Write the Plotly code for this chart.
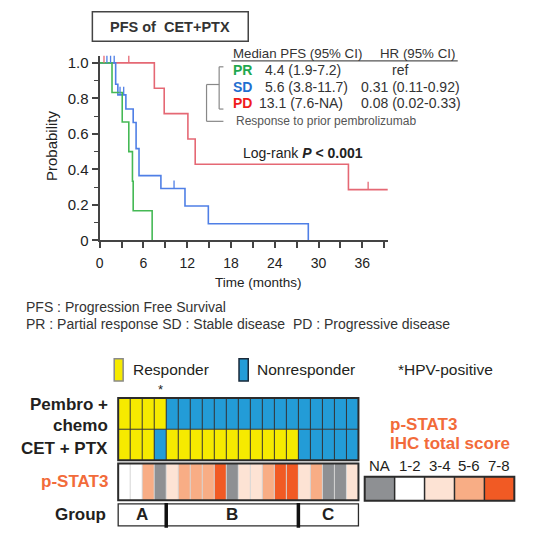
import plotly.graph_objects as go

W = H = 560
def X(px): return px / W
def Y(py): return 1 - py / H

FONT = "Liberation Sans, Arial, sans-serif"
DARK = "#2b2b2b"

# ---------------- KM data ----------------
pr_t = [0, 1.7, 3.1, 4.0, 4.5, 4.6, 7.2]
pr_s = [1.0, 0.833, 0.667, 0.5, 0.333, 0.167, 0.0]
sd_t = [0, 2.2, 2.5, 3.6, 4.6, 5.0, 5.4, 8.4, 11.7, 14.9, 28.6]
sd_s = [1.0, 0.88, 0.82, 0.74, 0.664, 0.517, 0.365, 0.292, 0.194, 0.094, 0.0]
pd_t = [0, 7.5, 8.85, 12.1, 13.1, 34.1, 39.5]
pd_s = [1.0, 0.857, 0.714, 0.571, 0.429, 0.286, 0.286]
sd_cens_t = [1.0, 1.5, 2.0, 2.8, 3.3, 10.2]
sd_cens_s = [1.0, 1.0, 1.0, 0.82, 0.82, 0.292]
pd_cens_t = [0.6, 4.0, 36.8]
pd_cens_s = [1.0, 1.0, 0.286]

grp_names = ["PR", "SD", "PD"]
grp_median = ["4.4 (1.9-7.2)", "5.6 (3.8-11.7)", "13.1 (7.6-NA)"]
grp_hr = ["ref", "0.31 (0.11-0.92)", "0.08 (0.02-0.33)"]
grp_text_col = ["#1fa84f", "#1f6fd0", "#f01c1c"]
line_col = {"PR": "#45b955", "SD": "#4f7fe6", "PD": "#e56874"}

y_tickvals = [0, 0.2, 0.4, 0.6, 0.8, 1.0]
y_ticktext = ["0", "0.2", "0.4", "0.6", "0.8", "1.0"]

# ---------------- Heatmap data ----------------
pembro = [1, 1, 1, 1] + [0] * 16
cet = [1, 1, 1, 0] + [1] * 11 + [0] * 5
pstat3 = [1, 1, 3, 0, 2, 3, 3, 3, 4, 0, 2, 2, 3, 4, 4, 2, 3, 0, 0, 2]
hpv = [0, 0, 0, 1] + [0] * 16
group = ["A"] * 4 + ["B"] * 11 + ["C"] * 5
pstat_labels = ["NA", "1-2", "3-4", "5-6", "7-8"]
pstat_colors = ["#8e9093", "#ffffff", "#fde3d4", "#f8ad85", "#f15a24"]
YELLOW = "#f6ea00"
BLUE = "#239cd7"
ORANGE_TXT = "#f26b3a"

fig = go.Figure()

# KM step curves
for name, t, s in [("PD", pd_t, pd_s), ("SD", sd_t, sd_s), ("PR", pr_t, pr_s)]:
    fig.add_trace(go.Scatter(x=t, y=s, mode="lines", line=dict(shape="hv", color=line_col[name], width=1.6),
                             xaxis="x", yaxis="y", hoverinfo="skip", showlegend=False))

def cens(ts, ss):
    xs, ys = [], []
    for t, s in zip(ts, ss):
        xs += [t, t, None]
        ys += [s, s + 0.045, None]
    return xs, ys

for name, ts, ss in [("PD", pd_cens_t, pd_cens_s), ("SD", sd_cens_t, sd_cens_s)]:
    cx, cy = cens(ts, ss)
    fig.add_trace(go.Scatter(x=cx, y=cy, mode="lines", line=dict(color=line_col[name], width=1.3),
                             xaxis="x", yaxis="y", hoverinfo="skip", showlegend=False))

# ---------------- heatmap rows ----------------
R_PEM = (403.3, 435.0)
R_CET = (435.0, 466.7)
R_PST = (470.0, 507.3)
R_GRP = (511.0, 533.3)
ncol = len(pembro)

def hm(z, rows, cs, zmax, xa="x2", ya="y2"):
    return go.Heatmap(z=[z], x0=0.5, dx=1, y0=(rows[0] + rows[1]) / 2, dy=rows[1] - rows[0],
                      colorscale=cs, zmin=0, zmax=zmax, showscale=False, hoverinfo="skip",
                      xaxis=xa, yaxis=ya)

resp_cs = [[0, BLUE], [1, YELLOW]]
pst_cs = [[i / 4, c] for i, c in enumerate(pstat_colors)]
fig.add_trace(hm(pembro, R_PEM, resp_cs, 1))
fig.add_trace(hm(cet, R_CET, resp_cs, 1))
fig.add_trace(hm(pstat3, R_PST, pst_cs, 4))
fig.add_trace(hm(list(range(5)), (483.3, 507.7), pst_cs, 4, "x3", "y3"))

shapes = []
def ln(x0, y0, x1, y1, color=DARK, width=1, xref="x2", yref="y2"):
    shapes.append(dict(type="line", x0=x0, y0=y0, x1=x1, y1=y1, xref=xref, yref=yref,
                       line=dict(color=color, width=width), layer="above"))
def rect(x0, y0, x1, y1, color=DARK, width=1, xref="x2", yref="y2", fill=None):
    d = dict(type="rect", x0=x0, y0=y0, x1=x1, y1=y1, xref=xref, yref=yref,
             line=dict(color=color, width=width), layer="above")
    if fill:
        d["fillcolor"] = fill
    shapes.append(d)

for i in range(1, ncol):
    ln(i, R_PEM[0], i, R_CET[1], "#333333", 1)
    ln(i, R_PST[0], i, R_PST[1], "#d6d6d6", 1)
ln(0, R_CET[0], ncol, R_CET[0], "#333333", 1)
rect(0, R_PEM[0], ncol, R_CET[1], DARK, 2)
rect(0, R_PST[0], ncol, R_PST[1], DARK, 2)
rect(0, R_GRP[0], ncol, R_GRP[1], DARK, 1.3)

# group dividers and labels
annotations = []
spans = []
start = 0
for i in range(1, ncol + 1):
    if i == ncol or group[i] != group[start]:
        spans.append((group[start], start, i))
        start = i
for g, a, b in spans:
    annotations.append(dict(x=(a + b) / 2, y=(R_GRP[0] + R_GRP[1]) / 2, xref="x2", yref="y2",
                            text="<b>%s</b>" % g, showarrow=False,
                            font=dict(family=FONT, size=17, color="#231f20")))
    if b < ncol:
        ln(b, R_GRP[0] - 1, b, R_GRP[1] + 2, "#111111", 3.5)

for i, h in enumerate(hpv):
    if h:
        annotations.append(dict(x=i + 0.5, y=395, xref="x2", yref="y2", text="*", showarrow=False,
                                font=dict(family=FONT, size=13, color="#231f20")))

# p-STAT3 legend boxes
for i in range(1, 5):
    ln(i, 483.3, i, 507.7, DARK, 1.5, "x3", "y3")
rect(0, 483.3, 5, 507.7, DARK, 2, "x3", "y3")
for i, lab in enumerate(pstat_labels):
    annotations.append(dict(x=i + 0.5, y=471.7, xref="x3", yref="y3", text=lab, showarrow=False,
                            font=dict(family=FONT, size=15, color="#231f20")))

# responder / nonresponder legend
rect(X(111), Y(386), X(120), Y(363.3), "#8a8a8a", 1.5, "paper", "paper", YELLOW)
rect(X(236.7), Y(386), X(246), Y(363.3), "#1b2a3a", 1.5, "paper", "paper", BLUE)

# title box
rect(X(89), Y(40), X(246), Y(10), "#444444", 1.5, "paper", "paper")

# bracket lines
for (x0, y0, x1, y1) in [(216.7, 66, 216.7, 109), (216.7, 66, 221, 66), (216.7, 109, 221, 109),
                         (204, 84, 216.7, 84), (204, 84, 204, 121.5), (204, 121.5, 221, 121.5),
                         (229, 60, 457, 60)]:
    ln(X(x0), Y(y0), X(x1), Y(y1), "#888888" if x0 < 225 else "#555555", 1.2, "paper", "paper")

def pa(x, y, text, size, color="#333333", xanchor="left", **kw):
    d = dict(x=X(x), y=Y(y), xref="paper", yref="paper", text=text, showarrow=False,
             xanchor=xanchor, yanchor="middle", font=dict(family=FONT, size=size, color=color))
    d.update(kw)
    annotations.append(d)

pa(167.5, 25, "<b>PFS of\u00a0 CET+PTX</b>", 14.5, "#333333", "center")
pa(229, 52.7, "Median PFS (95% CI)", 13.3, "#333333")
pa(376.7, 52.7, "HR (95% CI)", 13.3, "#333333")
row_y = [69.5, 86.5, 103]
med_x = [261, 261, 255]
hr_x = [389, 358, 358]
for k in range(3):
    pa(229, row_y[k], "<b>%s</b>" % grp_names[k], 14, grp_text_col[k])
    pa(med_x[k], row_y[k], grp_median[k], 14, "#333333")
    pa(hr_x[k], row_y[k], grp_hr[k], 14, "#333333")
pa(231.5, 121, "Response to prior pembrolizumab", 12, "#555555")
pa(239, 154, "Log-rank <b><i>P</i> &lt; 0.001</b>", 14, "#222222")
pa(256.7, 285.5, "Time (months)", 13.5, "#222222", "center")
pa(48, 146, "Probability", 15, "#222222", "center", textangle=-90)

pa(20, 310.7, "PFS : Progression Free Survival", 14, "#333333")
pa(20, 328.3, "PR : Partial response SD : Stable disease\u00a0 PD : Progressive disease", 14, "#333333")

pa(127.7, 374.5, "Responder", 15.5, "#231f20")
pa(253, 374.5, "Nonresponder", 15.5, "#231f20")
pa(395, 374.5, "*HPV-positive", 15.5, "#231f20")

pa(107, 410, "<b>Pembro +</b>", 17, "#231f20", "right")
pa(107, 431, "<b>chemo</b>", 17, "#231f20", "right")
pa(107, 455, "<b>CET + PTX</b>", 17, "#231f20", "right")
pa(107, 488.3, "<b>p-STAT3</b>", 17, ORANGE_TXT, "right")
pa(104.3, 521.7, "<b>Group</b>", 17, "#231f20", "right")
pa(386.7, 430, "<b>p-STAT3</b>", 17, ORANGE_TXT)
pa(386.7, 450, "<b>IHC total score</b>", 17, ORANGE_TXT)

# axes geometry
km_x0, km_x1 = 96.3, 386.6
km_ybot, km_ytop = 242.7, 54.8
x2_l, x2_r = 112.0, 360.0
colw = (357.0 - 115.0) / ncol
x3_l, x3_r = 361.0, 516.0
boxw = (514.0 - 363.3) / 5

axcol = "#444444"
fig.update_layout(
    width=W, height=H, margin=dict(l=0, r=0, t=0, b=0),
    paper_bgcolor="white", plot_bgcolor="white", showlegend=False,
    xaxis=dict(domain=[X(km_x0), X(km_x1)], range=[0, 39.5], anchor="y",
               tickmode="linear", tick0=0, dtick=6, ticks="outside", ticklen=6, tickwidth=1.5,
               tickcolor=axcol, showline=True, linecolor=axcol, linewidth=2, showgrid=False,
               zeroline=False, ticklabelstandoff=3,
               tickfont=dict(family=FONT, size=14, color="#222222"),
               minor=dict(tickmode="linear", tick0=0, dtick=3, ticks="outside", ticklen=6,
                          tickwidth=1.5, tickcolor=axcol, showgrid=False)),
    yaxis=dict(domain=[Y(km_ybot), Y(km_ytop)], range=[0, 1.04], anchor="x",
               tickmode="array", tickvals=y_tickvals, ticktext=y_ticktext,
               ticks="outside", ticklen=6, tickwidth=1.5, tickcolor=axcol,
               showline=True, linecolor=axcol, linewidth=2, showgrid=False, zeroline=False,
               tickfont=dict(family=FONT, size=15, color="#222222"),
               minor=dict(tickmode="linear", tick0=0, dtick=0.1, ticks="outside", ticklen=4,
                          tickwidth=1.2, tickcolor=axcol, showgrid=False)),
    xaxis2=dict(domain=[X(x2_l), X(x2_r)],
                range=[(x2_l - 115.0) / colw, (x2_r - 115.0) / colw],
                anchor="y2", visible=False),
    yaxis2=dict(domain=[Y(538), Y(388)], range=[538, 388], anchor="x2", visible=False),
    xaxis3=dict(domain=[X(x3_l), X(x3_r)],
                range=[(x3_l - 363.3) / boxw, (x3_r - 363.3) / boxw],
                anchor="y3", visible=False),
    yaxis3=dict(domain=[Y(510), Y(462)], range=[510, 462], anchor="x3", visible=False),
    shapes=shapes, annotations=annotations,
)

fig.write_html("out.html")
